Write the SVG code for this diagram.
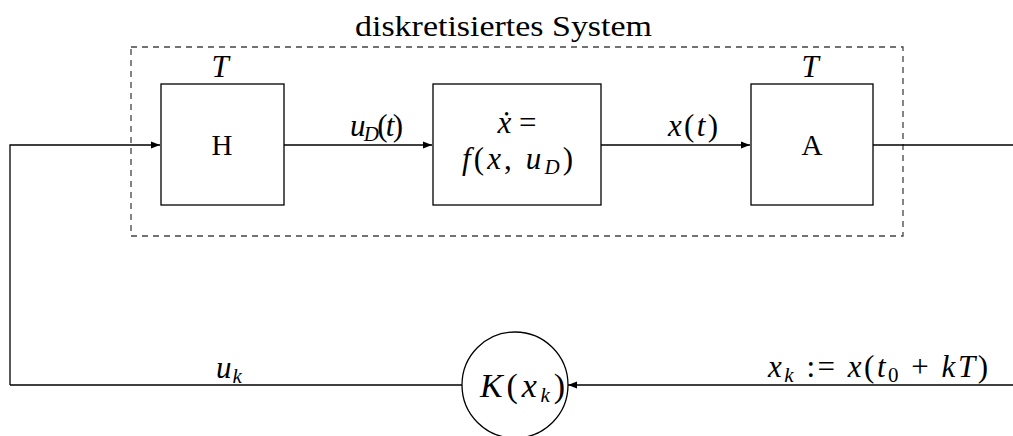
<svg xmlns="http://www.w3.org/2000/svg" width="1013" height="436" viewBox="0 0 1013 436">
<style>
text{font-family:"Liberation Serif","DejaVu Serif",serif;font-size:29px;fill:#000}
.m{font-size:31px}
.i{font-style:italic}
.s{font-size:21px}
.blk{fill:#fff;stroke:#000;stroke-width:1.3}
.ln{fill:none;stroke:#000;stroke-width:1.3}
</style>
<defs>
<marker id="ah" markerWidth="10" markerHeight="8" refX="9" refY="4" orient="auto" markerUnits="userSpaceOnUse">
<path d="M0,0.5 L9,4 L0,7.5 Z" fill="#000"/>
</marker>
</defs>
<rect id="system" x="131" y="47" width="772" height="189" fill="none" stroke="#444" stroke-width="1.3" stroke-dasharray="6,5"/>
<text x="355" y="36" textLength="297" lengthAdjust="spacingAndGlyphs">diskretisiertes System</text>
<g id="connectors">
<path class="ln" d="M10,385 L10,145 L160,145" marker-end="url(#ah)"/>
<path class="ln" d="M284,145 L432,145" marker-end="url(#ah)"/>
<path class="ln" d="M601,145 L750,145" marker-end="url(#ah)"/>
<path class="ln" d="M873,145 L1013,145"/>
<path class="ln" d="M1013,385 L568,385" marker-end="url(#ah)"/>
<path class="ln" d="M462,385 L10,385"/>
<text class="m" x="350" y="136" textLength="53" lengthAdjust="spacing"><tspan class="i">u</tspan><tspan class="i s" dy="5">D</tspan><tspan dy="-5">(</tspan><tspan class="i">t</tspan>)</text>
<text class="m" x="668" y="136" textLength="50" lengthAdjust="spacing"><tspan class="i">x</tspan>(<tspan class="i">t</tspan>)</text>
<text class="m" x="216" y="378"><tspan class="i">u</tspan><tspan class="i s" dx="1" dy="5">k</tspan></text>
<text class="m" x="768" y="377" textLength="220" lengthAdjust="spacing"><tspan class="i">x</tspan><tspan class="i s" dy="5">k</tspan><tspan dy="-5"> := </tspan><tspan class="i">x</tspan>(<tspan class="i">t</tspan><tspan class="s" dy="5">0</tspan><tspan dy="-5"> + </tspan><tspan class="i">kT</tspan>)</text>
</g>
<g id="H">
<rect class="blk" x="161" y="84" width="123" height="121"/>
<text x="220" y="77" text-anchor="middle" class="i m">T</text>
<text x="222" y="155" text-anchor="middle">H</text>
</g>
<g id="plant">
<rect class="blk" x="433" y="84" width="168" height="121"/>
<text class="m" x="517" y="133" text-anchor="middle"><tspan class="i">ẋ</tspan> =</text>
<text class="m" x="462" y="169" textLength="111" lengthAdjust="spacing"><tspan class="i">f</tspan>(<tspan class="i">x</tspan>, <tspan class="i">u</tspan><tspan class="i s" dy="5">D</tspan><tspan dy="-5">)</tspan></text>
</g>
<g id="A">
<rect class="blk" x="751" y="84" width="122" height="121"/>
<text x="810" y="77" text-anchor="middle" class="i m">T</text>
<text x="812" y="155" text-anchor="middle">A</text>
</g>
<g id="K">
<circle class="blk" cx="515" cy="385" r="53"/>
<text class="m" x="480" y="397" textLength="85" lengthAdjust="spacing" style="font-size:34px"><tspan class="i">K</tspan>(<tspan class="i">x</tspan><tspan class="i s" dy="5">k</tspan><tspan dy="-5">)</tspan></text>
</g>
</svg>
